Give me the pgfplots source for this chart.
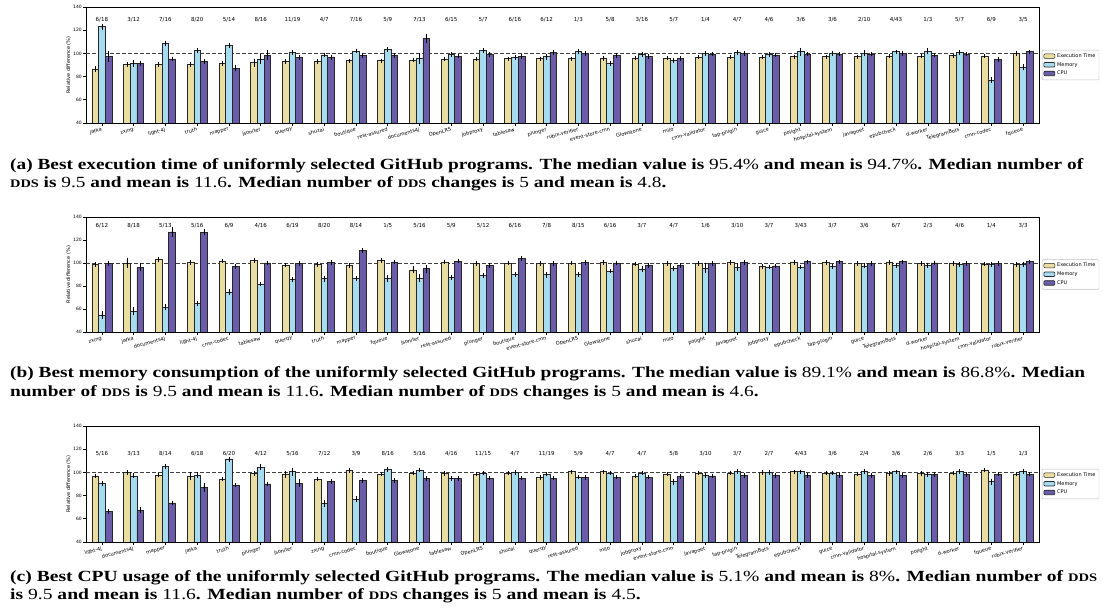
\documentclass[border=0pt]{standalone}
\usepackage{pgfplots}
\pgfplotsset{compat=1.18}
\usepackage{pgfplotstable}
\usepackage{graphicx}
\usepackage{fontspec}
\setmainfont{Liberation Serif}
\newfontfamily\dv{DejaVu Sans}

\definecolor{etc}{RGB}{233,221,161}
\definecolor{memc}{RGB}{166,219,240}
\definecolor{cpuc}{RGB}{106,92,168}

\pgfplotstableread{
x name et ete mem meme cpu cpue lab
0 jafka 86.6 0.7 122.9 1.0 97.5 3.0 6/18
1 zxing 90.2 0.5 91.4 1.5 91.0 0.5 3/12
2 light-4j 90.6 0.5 108.6 0.8 95.2 0.5 7/16
3 truth 90.6 0.6 102.3 0.8 92.9 0.5 8/20
4 mapper 91.4 0.4 106.9 0.6 87.4 0.8 5/14
5 jsoniter 92.0 2.0 95.0 3.0 98.6 3.0 8/16
6 querqy 92.9 0.3 100.9 0.4 96.6 0.4 11/19
7 shuzai 92.9 0.5 98.6 0.5 96.6 0.4 4/7
8 boutique 93.7 0.3 102.0 0.5 98.0 0.4 7/16
9 rest-assured 93.7 0.3 103.4 0.7 98.0 0.4 5/9
10 documents4j 94.3 0.4 95.4 3.0 112.9 2.0 7/13
11 OpenLRS 94.9 0.3 99.1 0.5 97.7 0.4 6/15
12 jobproxy 94.9 0.3 102.3 0.8 99.1 0.4 5/7
13 tablesaw 95.4 0.3 96.6 0.4 97.1 0.4 6/16
14 plunger 95.4 0.3 97.1 1.0 100.9 0.6 6/12
15 rubix-verifier 95.4 0.3 101.4 0.6 100.0 0.4 1/3
16 event-store-cmn 95.7 0.3 91.4 0.8 98.3 0.4 5/8
17 Glowstone 96.0 0.3 99.1 0.4 97.4 0.4 3/16
18 milo 96.0 0.3 94.0 0.5 95.7 0.4 5/7
19 cmn-validator 96.6 0.3 100.0 0.4 99.4 0.4 1/4
20 tap-plugin 96.6 0.3 100.9 0.4 100.0 0.4 4/7
21 guice 96.6 0.3 99.1 0.4 98.6 0.4 4/6
22 polight 97.1 0.3 101.4 2.0 99.4 0.4 3/6
23 hospital-system 97.1 0.3 100.0 0.4 99.4 0.4 3/6
24 javapoet 97.1 0.3 100.0 1.0 99.4 0.4 2/10
25 epubcheck 97.7 0.3 101.4 0.4 100.0 0.4 4/43
26 d-worker 97.7 0.3 101.7 1.0 98.6 0.4 1/3
27 TelegramBots 98.0 0.3 100.9 0.4 99.4 0.4 5/7
28 cmn-codec 97.8 0.3 77.1 1.0 94.9 0.4 6/9
29 fqueue 100.0 0.3 88.0 1.0 101.4 0.4 3/5
}\ta

\pgfplotstableread{
x name et ete mem meme cpu cpue lab
0 zxing 98.6 0.5 54.9 2.0 99.4 0.4 6/12
1 jafka 100.0 3.0 58.0 2.0 96.3 2.0 8/18
2 documents4j 102.9 0.5 61.4 1.0 127.0 3.0 5/13
3 light-4j 100.6 0.5 64.6 0.6 126.6 1.0 5/16
4 cmn-codec 101.7 0.4 74.9 1.0 96.9 0.4 6/9
5 tablesaw 102.0 0.4 81.7 0.5 100.0 0.4 4/16
6 querqy 98.3 0.4 85.4 0.5 99.4 0.4 6/19
7 truth 98.9 0.4 86.3 1.0 100.6 0.4 8/20
8 mapper 97.7 0.4 86.3 0.5 110.9 1.0 8/14
9 fqueue 102.3 0.4 86.6 1.5 100.9 0.4 1/5
10 jsoniter 94.0 1.5 86.9 2.0 95.1 2.0 5/16
11 rest-assured 100.9 0.4 87.7 0.5 101.7 0.4 5/9
12 plunger 99.7 0.4 89.1 1.0 97.7 0.4 5/12
13 boutique 100.0 0.4 89.7 0.5 103.7 0.4 6/16
14 event-store-cmn 99.4 0.4 89.7 1.0 99.7 0.4 7/8
15 OpenLRS 100.0 0.4 90.0 0.5 100.5 0.4 8/15
16 Glowstone 100.5 0.4 93.0 0.5 100.0 0.4 6/16
17 shuzai 99.0 0.4 94.5 1.0 98.0 0.4 3/7
18 milo 99.5 0.4 95.0 0.5 98.0 0.4 4/7
19 polight 99.5 0.4 95.5 3.0 99.5 0.4 1/6
20 javapoet 100.5 0.4 96.5 1.5 100.5 0.4 3/10
21 jobproxy 97.0 0.4 96.5 0.5 97.5 0.4 3/7
22 epubcheck 100.5 0.4 96.5 0.5 101.0 0.4 3/43
23 tap-plugin 100.5 0.4 97.0 0.5 101.0 0.4 3/7
24 guice 99.5 0.4 97.5 0.5 99.5 0.4 3/6
25 TelegramBots 100.5 0.4 98.0 0.5 101.0 0.4 6/7
26 d-worker 99.5 0.4 98.0 0.5 100.0 0.4 2/3
27 hospital-system 99.5 0.4 98.5 0.5 99.5 0.4 4/6
28 cmn-validator 99.0 0.4 99.0 0.5 99.5 0.4 1/4
29 rubix-verifier 98.5 0.4 99.0 0.5 101.0 0.4 3/3
}\tb

\pgfplotstableread{
x name et ete mem meme cpu cpue lab
0 light-4j 96.9 0.5 90.6 0.5 66.3 0.5 5/16
1 documents4j 100.0 0.4 96.9 0.6 67.7 1.0 3/13
2 mapper 97.7 0.4 104.9 0.6 73.7 0.4 8/14
3 jafka 96.6 2.0 97.7 1.0 86.9 2.0 6/18
4 truth 94.3 0.5 111.1 1.0 89.1 0.4 6/20
5 plunger 99.1 0.4 104.3 1.0 90.0 0.4 4/12
6 jsoniter 98.3 1.5 100.6 2.0 90.6 2.0 5/16
7 zxing 94.3 0.4 72.9 1.5 92.0 0.4 7/12
8 cmn-codec 101.7 0.4 76.9 1.0 92.9 0.4 3/9
9 boutique 98.6 0.4 102.6 0.5 93.1 0.4 8/16
10 Glowstone 99.4 0.4 102.0 0.5 94.6 0.4 5/16
11 tablesaw 99.1 0.4 94.6 0.4 94.9 0.4 4/16
12 OpenLRS 98.6 0.4 99.4 0.5 95.1 0.4 11/15
13 shuzai 99.4 0.4 100.0 0.5 95.1 0.4 4/7
14 querqy 95.4 0.4 98.6 0.5 95.1 0.4 11/19
15 rest-assured 100.5 0.4 96.0 0.4 95.5 0.4 5/9
16 milo 100.5 0.4 99.5 0.5 96.0 0.4 4/7
17 jobproxy 97.0 0.4 99.5 0.5 96.0 0.4 4/7
18 event-store-cmn 98.5 0.4 92.0 1.0 96.5 0.4 5/8
19 javapoet 99.5 0.4 97.5 0.5 97.0 0.4 3/10
20 tap-plugin 99.5 0.4 100.5 0.5 97.5 0.4 3/7
21 TelegramBots 100.0 0.4 100.0 0.4 97.5 0.4 2/7
22 epubcheck 100.5 0.4 100.5 0.4 97.5 0.4 4/43
23 guice 99.5 0.4 99.5 0.4 97.5 0.4 3/6
24 cmn-validator 98.5 0.4 101.0 0.4 97.5 0.4 2/4
25 hospital-system 99.0 0.4 100.5 0.4 97.5 0.4 3/6
26 polight 99.0 0.8 98.5 0.5 98.0 0.4 2/6
27 d-worker 99.5 0.4 100.5 0.5 98.0 0.4 3/3
28 fqueue 102.0 0.4 92.0 1.0 98.5 0.4 1/5
29 rubix-verifier 98.5 0.4 100.5 0.5 98.5 0.4 1/3
}\tc

\pgfplotsset{
 panel/.style={
  scale only axis, width=953pt,
  ybar, bar width=0.21,
  xmin=-0.5, xmax=29.5, ymin=40, ymax=140,
  ytick={40,60,...,140},
  xtick={0,...,29},
  tick align=outside, tick pos=left,
  major tick length=3pt,
  every tick/.style={black, line width=0.6pt},
  axis line style={black, line width=0.9pt},
  /pgf/number format/assume math mode=true,
  yticklabel style={font=\dv\fontsize{4.5}{5}\selectfont, inner sep=1pt},
  xticklabel style={font=\dv\fontsize{5}{6}\selectfont, rotate=15, anchor=north east, inner sep=1pt},
  ylabel={Relative difference (\%)},
  ylabel style={font=\dv\fontsize{5}{6}\selectfont, yshift=-2pt},
  legend style={font=\dv\fontsize{5}{6}\selectfont, at={(1.003,0.5)}, anchor=west,
    draw=black!25, rounded corners=1pt, inner sep=1.5pt, row sep=-0.5pt, cells={anchor=west}},
  legend image code/.code={\draw[##1, line width=0.6pt] (0pt,-2pt) rectangle (11pt,2.5pt);},
 },
 bars/.style={draw=black!85, line width=0.7pt, bar shift=#1,
   error bars/y dir=both, error bars/y explicit,
   error bars/error bar style={black, line width=0.7pt},
   error bars/error mark options={black, mark size=1.8pt, line width=0.7pt}},
 toplab/.style={draw=none, fill=none, bar shift=0pt, forget plot, nodes near coords,
   point meta=explicit symbolic,
   every node near coord/.style={anchor=center, font=\dv\fontsize{5.5}{6}\selectfont, black}},
}

\newcommand\capfont{\fontsize{15.5}{18}\selectfont\bfseries}
\newcommand\n[1]{{\mdseries #1}}
\newcommand\dds{{\fontsize{11.5}{12}\selectfont DDS}}
\newsavebox\capA
\newsavebox\capB
\newsavebox\capC
\newdimen\tmpd

\begin{document}
\sbox\capA{\capfont (a) Best execution time of uniformly selected GitHub programs. The median value is \n{95.4\%} and mean is \n{94.7\%}. Median number of}%
\tmpd=\wd\capA
\pgfmathsetmacro\scA{1073/\tmpd}%
\sbox\capB{\capfont (b) Best memory consumption of the uniformly selected GitHub programs. The median value is \n{89.1\%} and mean is \n{86.8\%}. Median}%
\tmpd=\wd\capB
\pgfmathsetmacro\scB{1075/\tmpd}%
\sbox\capC{\capfont (c) Best CPU usage of the uniformly selected GitHub programs. The median value is \n{5.1\%} and mean is \n{8\%}. Median number of \dds}%
\tmpd=\wd\capC
\pgfmathsetmacro\scC{1087/\tmpd}%
\begin{tikzpicture}
\useasboundingbox (0,0) rectangle (1103pt,613pt);

% ---------- panel a
\begin{axis}[panel, height=116pt, at={(86pt,490pt)}, anchor=south west,
  xticklabels from table={\ta}{name}]
\draw[black!75, line width=0.9pt, dash pattern=on 4pt off 2pt] (axis cs:-0.5,100) -- (axis cs:29.5,100);
\addplot[bars=-0.21, fill=etc] table[x=x, y=et, y error=ete] {\ta};
\addplot[bars=0, fill=memc] table[x=x, y=mem, y error=meme] {\ta};
\addplot[bars=0.21, fill=cpuc] table[x=x, y=cpu, y error=cpue] {\ta};
\legend{Execution Time, Memory, CPU}
\addplot[toplab] table[x=x, y expr=129, meta=lab] {\ta};
\end{axis}

% ---------- panel b
\begin{axis}[panel, height=115pt, at={(86pt,281pt)}, anchor=south west,
  xticklabels from table={\tb}{name}]
\draw[black!75, line width=0.9pt, dash pattern=on 4pt off 2pt] (axis cs:-0.5,100) -- (axis cs:29.5,100);
\addplot[bars=-0.21, fill=etc] table[x=x, y=et, y error=ete] {\tb};
\addplot[bars=0, fill=memc] table[x=x, y=mem, y error=meme] {\tb};
\addplot[bars=0.21, fill=cpuc] table[x=x, y=cpu, y error=cpue] {\tb};
\legend{Execution Time, Memory, CPU}
\addplot[toplab] table[x=x, y expr=132, meta=lab] {\tb};
\end{axis}

% ---------- panel c
\begin{axis}[panel, height=116pt, at={(86pt,71pt)}, anchor=south west,
  xticklabels from table={\tc}{name}]
\draw[black!75, line width=0.9pt, dash pattern=on 4pt off 2pt] (axis cs:-0.5,100) -- (axis cs:29.5,100);
\addplot[bars=-0.21, fill=etc] table[x=x, y=et, y error=ete] {\tc};
\addplot[bars=0, fill=memc] table[x=x, y=mem, y error=meme] {\tc};
\addplot[bars=0.21, fill=cpuc] table[x=x, y=cpu, y error=cpue] {\tc};
\legend{Execution Time, Memory, CPU}
\addplot[toplab] table[x=x, y expr=116.5, meta=lab] {\tc};
\end{axis}

% ---------- captions
\node[anchor=base west, inner sep=0pt] at (10pt,443pt) {\scalebox{\scA}[1]{\usebox\capA}};
\node[anchor=base west, inner sep=0pt] at (10pt,425pt) {\scalebox{\scA}[1]{\capfont \dds{} is \n{9.5} and mean is \n{11.6}. Median number of \dds{} changes is \n{5} and mean is \n{4.8}.}};
\node[anchor=base west, inner sep=0pt] at (10pt,235pt) {\scalebox{\scB}[1]{\usebox\capB}};
\node[anchor=base west, inner sep=0pt] at (10pt,216pt) {\scalebox{\scB}[1]{\capfont number of \dds{} is \n{9.5} and mean is \n{11.6}. Median number of \dds{} changes is \n{5} and mean is \n{4.6}.}};
\node[anchor=base west, inner sep=0pt] at (10pt,31pt) {\scalebox{\scC}[1]{\usebox\capC}};
\node[anchor=base west, inner sep=0pt] at (10pt,13pt) {\scalebox{\scC}[1]{\capfont is \n{9.5} and mean is \n{11.6}. Median number of \dds{} changes is \n{5} and mean is \n{4.5}.}};
\end{tikzpicture}
\end{document}
